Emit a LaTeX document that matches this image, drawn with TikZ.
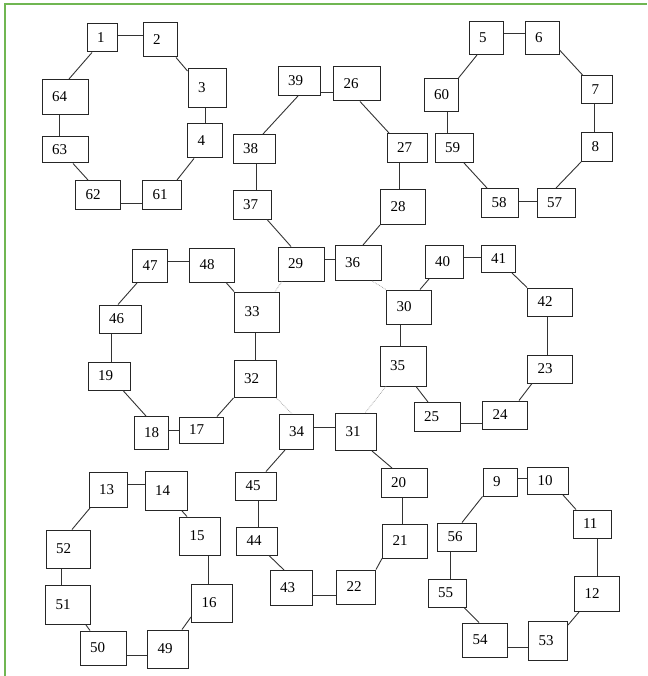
\documentclass[tikz,border=0pt]{standalone}
\usepackage{fontspec}
\setmainfont{Liberation Serif}
\definecolor{frame}{RGB}{112,182,82}
\tikzset{
  bx/.style={draw=black!85, line width=1pt, rectangle, inner xsep=10pt, inner ysep=0pt, align=left,
    font=\fontsize{15}{16}\selectfont, text=black},
  con/.style={draw=black!80, line width=0.9pt},
  dotcon/.style={draw=black!40, line width=0.7pt, densely dotted}
}
\newcommand\bx[5]{\pgfmathsetmacro\tw{#4-20}\node[bx, minimum width=#4pt, minimum height=#5pt, text width=\tw pt] (n#1) at (#2,#3) {#1};}
\newcommand\hcon[3]{\draw[con] (n#1.east |- 0,#3) -- (n#2.west |- 0,#3);}
\newcommand\vcon[3]{\draw[con] (n#1.south -| #3,0) -- (n#2.north -| #3,0);}
\begin{document}
\begin{tikzpicture}[x=1pt,y=-1pt]
\useasboundingbox (0,0) rectangle (647,676);
\draw[frame, line width=2pt] (5,676) -- (5,4) -- (647,4);
% boxes
\bx{1}{102}{38}{30}{28}
\bx{2}{160}{40}{34}{34}
\bx{3}{207}{88}{38}{39}
\bx{4}{205}{141}{35}{34}
\bx{64}{65}{97}{46}{35}
\bx{63}{65}{150}{46}{26}
\bx{62}{98}{195}{45}{29}
\bx{61}{162}{195}{39}{29}
\bx{39}{299}{81}{42}{29}
\bx{38}{254}{149}{42}{29}
\bx{37}{252}{205}{38}{28}
\bx{26}{357}{84}{47}{34}
\bx{27}{407}{148}{40}{29}
\bx{28}{403}{207}{45}{35}
\bx{5}{486}{38}{34}{33}
\bx{6}{542}{38}{34}{33}
\bx{7}{597}{90}{31}{28}
\bx{8}{597}{147}{31}{29}
\bx{60}{441}{95}{34}{33}
\bx{59}{454}{148}{38}{29}
\bx{58}{500}{203}{37}{29}
\bx{57}{556}{203}{38}{29}
\bx{47}{150}{266}{35}{33}
\bx{48}{212}{265}{45}{34}
\bx{29}{301}{264}{46}{34}
\bx{33}{257}{312}{45}{40}
\bx{46}{120}{319}{42}{28}
\bx{19}{109}{376}{42}{28}
\bx{32}{255}{379}{42}{37}
\bx{18}{151}{433}{34}{33}
\bx{17}{201}{430}{44}{26}
\bx{34}{296}{432}{34}{35}
\bx{36}{358}{263}{46}{35}
\bx{40}{444}{262}{38}{33}
\bx{41}{498}{259}{34}{27}
\bx{42}{550}{302}{45}{28}
\bx{30}{409}{307}{45}{34}
\bx{35}{403}{366}{46}{40}
\bx{23}{550}{369}{45}{28}
\bx{25}{437}{417}{46}{29}
\bx{24}{505}{415}{45}{28}
\bx{31}{356}{432}{41}{37}
\bx{13}{108}{490}{38}{35}
\bx{14}{166}{491}{42}{39}
\bx{15}{200}{536}{41}{38}
\bx{16}{212}{603}{41}{38}
\bx{52}{68}{549}{44}{38}
\bx{51}{68}{605}{45}{39}
\bx{50}{103}{648}{46}{34}
\bx{49}{168}{649}{41}{38}
\bx{45}{256}{486}{41}{28}
\bx{44}{257}{541}{41}{28}
\bx{43}{291}{588}{42}{35}
\bx{20}{404}{483}{46}{29}
\bx{21}{405}{541}{45}{34}
\bx{22}{356}{587}{39}{34}
\bx{9}{500}{482}{34}{28}
\bx{10}{548}{481}{41}{27}
\bx{11}{592}{524}{38}{28}
\bx{12}{597}{594}{45}{35}
\bx{56}{457}{537}{39}{28}
\bx{55}{447}{593}{38}{28}
\bx{54}{485}{640}{45}{34}
\bx{53}{548}{641}{39}{39}
% horizontal connectors
\hcon{1}{2}{35}
\hcon{62}{61}{203}
\hcon{39}{26}{92}
\hcon{5}{6}{33}
\hcon{58}{57}{201}
\hcon{47}{48}{261}
\hcon{29}{36}{259}
\hcon{40}{41}{257}
\hcon{18}{17}{430}
\hcon{34}{31}{427}
\hcon{25}{24}{423}
\hcon{13}{14}{484}
\hcon{50}{49}{655}
\hcon{43}{22}{595}
\hcon{9}{10}{478}
\hcon{54}{53}{647}
% vertical connectors
\vcon{3}{4}{205}
\vcon{64}{63}{59}
\vcon{38}{37}{256}
\vcon{27}{28}{399}
\vcon{60}{59}{447}
\vcon{7}{8}{594}
\vcon{46}{19}{111}
\vcon{33}{32}{255}
\vcon{30}{35}{400}
\vcon{42}{23}{547}
\vcon{45}{44}{258}
\vcon{20}{21}{402}
\vcon{52}{51}{61}
\vcon{15}{16}{208}
\vcon{56}{55}{450}
\vcon{11}{12}{597}
% diagonal connectors
\draw[con] (n1.south -| 92,0) -- (n64.north -| 69,0);
\draw[con] (n2.south -| 176,0) -- (n3.west |- 0,71);
\draw[con] (n4.south -| 194,0) -- (n61.north -| 177,0);
\draw[con] (n63.south -| 73,0) -- (n62.north -| 88,0);
\draw[con] (n39.south -| 298,0) -- (n38.north -| 263,0);
\draw[con] (n26.south -| 360,0) -- (n27.north -| 389,0);
\draw[con] (n28.south -| 380,0) -- (n36.north -| 363,0);
\draw[con] (n5.south -| 477,0) -- (n60.north east);
\draw[con] (n6.east |- 0,50) -- (n7.north -| 583,0);
\draw[con] (n8.south west) -- (n57.north -| 556,0);
\draw[con] (n59.south -| 464,0) -- (n58.north -| 487,0);
\draw[con] (n37.south -| 267,0) -- (n29.north -| 291,0);
\draw[con] (n47.south -| 137,0) -- (n46.north -| 118,0);
\draw[con] (n48.south -| 226,0) -- (n33.north west);
\draw[con] (n19.south -| 123,0) -- (n18.north -| 146,0);
\draw[con] (n32.south west) -- (n17.north -| 217,0);
\draw[con] (n40.south -| 429,0) -- (n30.north -| 420,0);
\draw[con] (n41.south -| 512,0) -- (n42.north west);
\draw[con] (n23.south -| 532,0) -- (n24.north -| 519,0);
\draw[con] (n35.south -| 416,0) -- (n25.north -| 428,0);
\draw[con] (n34.south -| 285,0) -- (n45.north -| 266,0);
\draw[con] (n31.south -| 372,0) -- (n20.north -| 392,0);
\draw[con] (n44.south -| 269,0) -- (n43.north -| 284,0);
\draw[con] (n21.south west) -- (n22.north east);
\draw[con] (n13.south -| 90,0) -- (n52.north -| 72,0);
\draw[con] (n14.south -| 182,0) -- (n15.north -| 187,0);
\draw[con] (n16.west |- 0,617) -- (n49.north -| 182,0);
\draw[con] (n51.south -| 86,0) -- (n50.north -| 90,0);
\draw[con] (n9.south west) -- (n56.north -| 462,0);
\draw[con] (n10.south -| 563,0) -- (n11.north -| 576,0);
\draw[con] (n12.south -| 579,0) -- (n53.east |- 0,625);
\draw[con] (n55.south -| 464,0) -- (n54.north -| 479,0);
% dotted connectors
\draw[dotcon] (n29.south -| 282,0) -- (n33.north -| 275,0);
\draw[dotcon] (n36.south -| 372,0) -- (n30.north west);
\draw[dotcon] (n32.south east) -- (n34.north -| 292,0);
\draw[dotcon] (n35.south -| 386,0) -- (n31.north -| 365,0);
\end{tikzpicture}
\end{document}
